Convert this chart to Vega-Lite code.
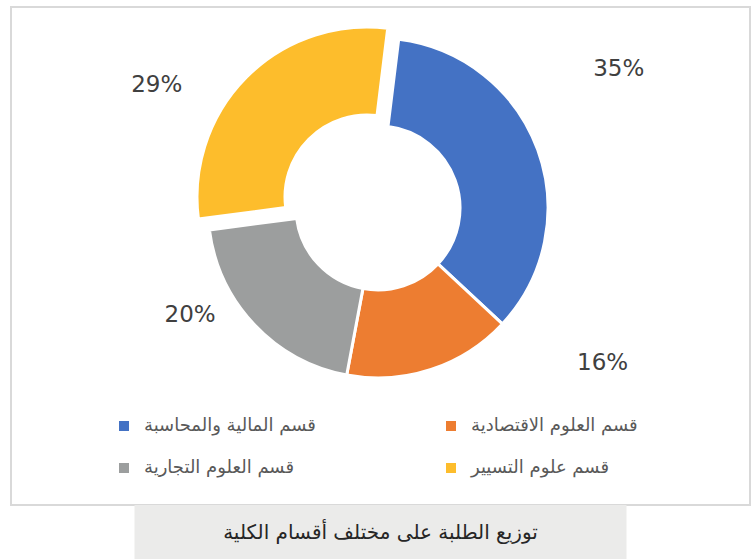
{
  "$schema": "https://vega.github.io/schema/vega-lite/v6.json",
  "padding": {"left": 10, "top": 6, "right": 3, "bottom": 0},
  "background": "white",
  "config": {"view": {"stroke": null}, "font": "DejaVu Sans"},
  "spacing": 0,
  "bounds": "flush",
  "center": true,
  "vconcat": [
    {
      "width": 739,
      "height": 498,
      "view": {"stroke": "#d9d9d9", "strokeWidth": 2},
      "data": {"values": [
        {"category": "قسم المالية والمحاسبة", "value": 35},
        {"category": "قسم العلوم الاقتصادية", "value": 16},
        {"category": "قسم العلوم التجارية", "value": 20},
        {"category": "قسم علوم التسيير", "value": 29}
      ]},
      "transform": [
        {"stack": "value", "groupby": [], "as": ["start", "end"]},
        {"calculate": "(datum.start + datum.end) / 2", "as": "mid"},
        {"calculate": "datum.value + '%'", "as": "label"}
      ],
      "layer": [
        {
          "transform": [{"filter": "datum.category != 'قسم علوم التسيير'"}],
          "mark": {"type": "arc", "x": 367, "y": 201, "outerRadius": 170, "innerRadius": 82, "stroke": "white", "strokeWidth": 3},
          "encoding": {
            "theta": {"field": "start", "type": "quantitative", "scale": {"domain": [0, 100], "range": [0.1222, 6.4054]}},
            "theta2": {"field": "end"},
            "color": {"field": "category", "type": "nominal",
              "scale": {"domain": ["قسم المالية والمحاسبة", "قسم العلوم الاقتصادية", "قسم العلوم التجارية", "قسم علوم التسيير"],
                        "range": ["#4472c4", "#ed7d31", "#9c9e9e", "#fdbd2c"]},
              "legend": {"title": null, "orient": "none", "legendX": 104, "legendY": 410, "columns": 2, "direction": "horizontal", "gridAlign": "all",
                "columnPadding": 126, "rowPadding": 24, "symbolType": "square", "symbolSize": 100, "symbolStrokeWidth": 0,
                "labelFont": "DejaVu Sans", "labelFontSize": 18, "labelColor": "#595959", "labelOffset": 11, "labelLimit": 400, "padding": 0}
            }
          }
        },
        {
          "transform": [{"filter": "datum.category == 'قسم علوم التسيير'"}],
          "mark": {"type": "arc", "x": 356, "y": 190, "outerRadius": 170, "innerRadius": 82, "stroke": "white", "strokeWidth": 3},
          "encoding": {
            "theta": {"field": "start", "type": "quantitative"},
            "theta2": {"field": "end"},
            "color": {"field": "category", "type": "nominal"}
          }
        },
        {
          "transform": [{"filter": "datum.category == 'قسم المالية والمحاسبة'"}],
          "mark": {"type": "text", "x": 367, "y": 201, "radius": 278, "thetaOffset": -0.1745, "fontSize": 23, "color": "#404040", "align": "center", "baseline": "middle"},
          "encoding": {"theta": {"field": "mid", "type": "quantitative"}, "text": {"field": "label"}}
        },
        {
          "transform": [{"filter": "datum.category == 'قسم العلوم الاقتصادية'"}],
          "mark": {"type": "text", "x": 367, "y": 201, "radius": 273, "thetaOffset": -0.649, "fontSize": 23, "color": "#404040", "align": "center", "baseline": "middle"},
          "encoding": {"theta": {"field": "mid", "type": "quantitative"}, "text": {"field": "label"}}
        },
        {
          "transform": [{"filter": "datum.category == 'قسم العلوم التجارية'"}],
          "mark": {"type": "text", "x": 367, "y": 201, "radius": 216, "thetaOffset": 0.241, "fontSize": 23, "color": "#404040", "align": "center", "baseline": "middle"},
          "encoding": {"theta": {"field": "mid", "type": "quantitative"}, "text": {"field": "label"}}
        },
        {
          "transform": [{"filter": "datum.category == 'قسم علوم التسيير'"}],
          "mark": {"type": "text", "x": 367, "y": 201, "radius": 253, "thetaOffset": -0.276, "fontSize": 23, "color": "#404040", "align": "center", "baseline": "middle"},
          "encoding": {"theta": {"field": "mid", "type": "quantitative"}, "text": {"field": "label"}}
        }
      ]
    },
    {
      "width": 492,
      "height": 55,
      "view": {"fill": "#ebebea", "stroke": null},
      "data": {"values": [{"title": "توزيع الطلبة على مختلف أقسام الكلية"}]},
      "mark": {"type": "text", "fontSize": 20, "color": "#262626", "font": "DejaVu Sans", "align": "center", "baseline": "middle"},
      "encoding": {"text": {"field": "title"}}
    }
  ]
}
